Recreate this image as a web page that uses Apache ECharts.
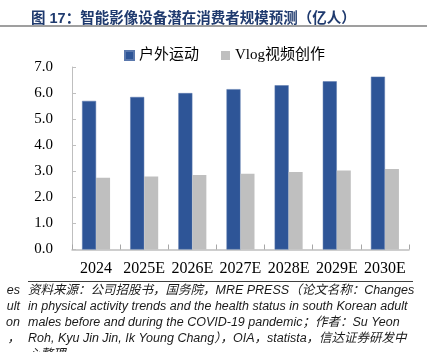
<!DOCTYPE html>
<html>
<head>
<meta charset="utf-8">
<script src="https://cdn.jsdelivr.net/npm/echarts@6/dist/echarts.min.js"></script>
<style>
html,body{margin:0;padding:0;background:#fff;}
#main{width:427px;height:352px;}
</style>
</head>
<body>
<div id="main"></div>
<script>
var blueColor = '#2e5597';
var grayColor = '#bfbfbf';

var years = ['2024', '2025E', '2026E', '2027E', '2028E', '2029E', '2030E'];
var outdoorData = [5.7, 5.85, 6.0, 6.15, 6.3, 6.45, 6.63];
var vlogData = [2.75, 2.8, 2.86, 2.91, 2.97, 3.03, 3.09];
var seriesNames = ['户外运动', 'Vlog视频创作'];

var chartTitle = '图 17：智能影像设备潜在消费者规模预测（亿人）';
var sourceLines = [
    '资料来源：公司招股书，国务院，MRE PRESS（论文名称：Changes',
    'in physical activity trends and the health status in south Korean adult',
    'males before and during the COVID-19 pandemic；作者：Su Yeon',
    'Roh, Kyu Jin Jin, Ik Young Chang），OIA，statista，信达证券研发中',
    '心整理'
];
var clippedLines = ['es', 'ult', 'on', '，'];

var serifFont = '"Liberation Serif", "Times New Roman", "Noto Sans CJK SC", serif';
var noteFont = '"Liberation Sans", Arial, "Noto Sans CJK SC", sans-serif';

function initChart(){
    return echarts.init(document.getElementById('main'), null, {renderer: 'canvas'});
}

function buildGraphics(){
    var items = [];
    // line under title
    items.push({
        type: 'line',
        shape: {x1: 0, y1: 26, x2: 427, y2: 26},
        style: {stroke: '#7f7f7f', lineWidth: 1.5}
    });
    // line above source notes
    items.push({
        type: 'line',
        shape: {x1: 28, y1: 281.5, x2: 413, y2: 281.5},
        style: {stroke: '#404040', lineWidth: 1}
    });
    for (var i = 0; i < sourceLines.length; i++) {
        items.push({
            type: 'text',
            left: 28,
            top: 284 + i * 16,
            style: {
                text: sourceLines[i],
                fill: '#1a1a1a',
                font: 'italic 12.5px ' + noteFont
            }
        });
    }
    for (var j = 0; j < clippedLines.length; j++) {
        items.push({
            type: 'text',
            right: 407,
            top: 284 + j * 16,
            style: {
                text: clippedLines[j],
                fill: '#1a1a1a',
                font: 'italic 12.5px ' + noteFont,
                textAlign: 'right'
            }
        });
    }
    return items;
}

function renderChart(myChart){
    var option = {
        backgroundColor: '#ffffff',
        animation: false,
        title: {
            text: chartTitle,
            left: 26,
            top: 7,
            textStyle: {
                color: '#1f3a6e',
                fontSize: 14.5,
                fontWeight: 'bold',
                fontFamily: 'Arial, "Liberation Sans", "Noto Sans CJK SC", sans-serif'
            }
        },
        legend: {
            data: seriesNames,
            top: 43,
            left: 119,
            itemWidth: 9,
            itemHeight: 9,
            itemGap: 22,
            icon: 'rect',
            textStyle: {
                color: '#000',
                fontSize: 15,
                fontFamily: serifFont
            }
        },
        grid: {
            left: 72,
            right: 18,
            top: 67,
            bottom: 102.5
        },
        xAxis: {
            type: 'category',
            data: years,
            axisLine: {lineStyle: {color: '#bfbfbf', width: 1.5}},
            axisTick: {show: true, inside: true, length: 5, lineStyle: {color: '#a6a6a6'}},
            axisLabel: {
                color: '#000',
                fontSize: 16,
                margin: 11,
                interval: 0,
                fontFamily: serifFont
            }
        },
        yAxis: {
            type: 'value',
            min: 0,
            max: 7,
            interval: 1,
            axisLine: {show: true, lineStyle: {color: '#bfbfbf', width: 1}},
            axisTick: {show: true, inside: true, length: 4, lineStyle: {color: '#bfbfbf'}},
            splitLine: {show: false},
            axisLabel: {
                color: '#000',
                fontSize: 15,
                margin: 19,
                fontFamily: serifFont,
                formatter: function(v){ return v.toFixed(1); }
            }
        },
        series: [
            {
                name: seriesNames[0],
                type: 'bar',
                data: outdoorData,
                barWidth: 14,
                barGap: '0%',
                itemStyle: {color: blueColor, borderColor: '#5a78ad', borderWidth: 0.5}
            },
            {
                name: seriesNames[1],
                type: 'bar',
                data: vlogData,
                barWidth: 14,
                barGap: '0%',
                itemStyle: {color: grayColor}
            }
        ],
        graphic: buildGraphics()
    };
    myChart.setOption(option);
}

const myChart = initChart();
renderChart(myChart);
</script>
</body>
</html>
